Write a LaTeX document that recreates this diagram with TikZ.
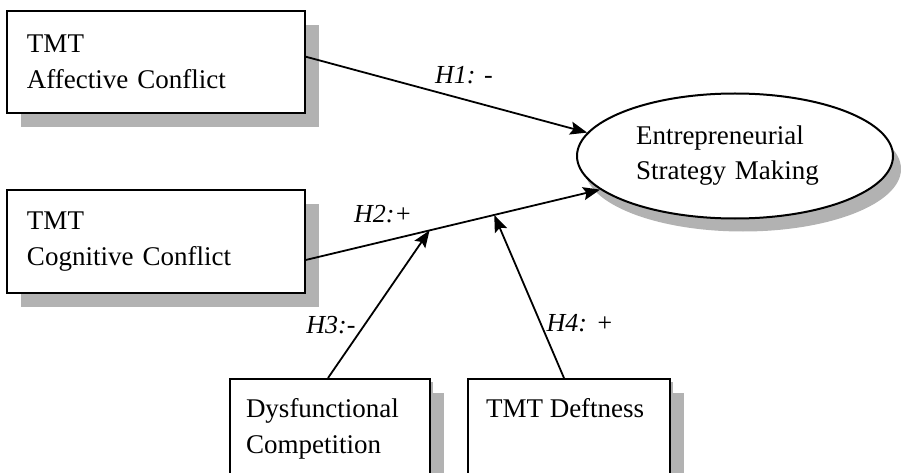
\documentclass[tikz,border=0pt]{standalone}
\usepackage{fontspec}
\setmainfont{Liberation Serif}
\usetikzlibrary{arrows.meta, positioning, shapes.geometric, shadows}

\begin{document}
\begin{tikzpicture}[
    x=1pt, y=-1pt,
    >=Stealth,
    shade/.style={drop shadow={shadow xshift=#1, shadow yshift=-#1, fill=black!30, opacity=1}},
    box/.style={draw, line width=2pt, fill=white, align=left, inner sep=0pt,
                font=\fontsize{27}{36}\selectfont, shade=14pt},
    topbox/.style={box, minimum width=298, minimum height=102, text width=258},
    botbox/.style={box, anchor=north west, inner ysep=19pt, shade=3pt},
    outcome/.style={ellipse, draw, line width=2pt, fill=white, align=left, inner sep=0pt,
                minimum width=316, minimum height=125, text width=198,
                font=\fontsize{27}{35}\selectfont,
                drop shadow={shadow xshift=8pt, shadow yshift=-13pt, fill=black!30, opacity=1}},
    arr/.style={-{Stealth[length=17pt, width=13pt, inset=3pt]}, line width=1.8pt},
    lbl/.style={font=\fontsize{26}{30}\selectfont\itshape},
]
\useasboundingbox (0,0) rectangle (901,473);
\clip (0,0) rectangle (901,473);
% === Conflict constructs (left) ===
\node[topbox] (affect) at (156,62) {TMT\\Affective Conflict};
\node[topbox, minimum height=103] (cognit) at (156,241.5) {TMT\\Cognitive Conflict};
% === Outcome ===
\node[outcome] (esm) at (735,156) {Entrepreneurial\\Strategy Making};
% === Moderators (bottom) ===
\node[botbox, inner xsep=16pt] (dysf) at (229,378)
    {\parbox[t][120pt][t]{168pt}{\raggedright Dysfunctional\\Competition}};
\node[botbox, inner xsep=18pt] (deft) at (467,378)
    {\parbox[t][120pt][t]{166pt}{\raggedright TMT Deftness}};
% === Hypothesised paths ===
\draw[arr] (affect.2) -- (esm.171);
\draw[arr] (cognit.-7) -- coordinate[pos=0.42] (m3) coordinate[pos=0.64] (m4) (esm.194);
\draw[arr] ([xshift=-2pt]dysf.north) -- (m3);
\draw[arr] ([xshift=-5pt]deft.north) -- (m4);
\node[lbl] (h1) at (464,75) {H1: -};
\node[lbl] (h2) at (383,214) {H2:+};
\node[lbl] (h3) at (331,325) {H3:-};
\node[lbl] (h4) at (580,323) {H4: +};
\end{tikzpicture}
\end{document}
